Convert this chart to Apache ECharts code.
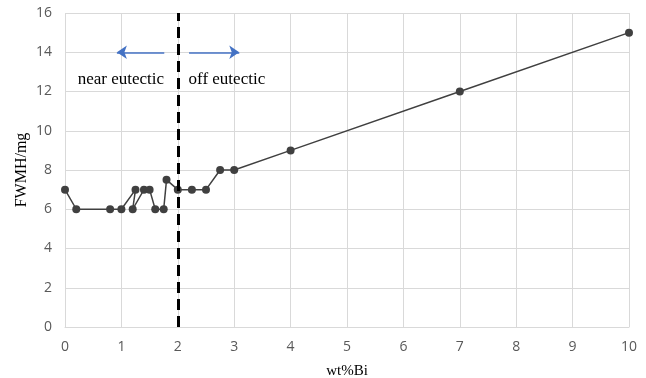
<!DOCTYPE html>
<html>
<head>
<meta charset="utf-8">
<script src="https://cdn.jsdelivr.net/npm/echarts@6/dist/echarts.min.js"></script>
<style>
  html, body { margin: 0; padding: 0; background: #fff; }
  #chart { width: 646px; height: 378px; }
</style>
</head>
<body>
<div id="chart"></div>
<script>
// Bi content (wt%) and the measured FWHM, in measurement order
const wtBi = [0, 0.2, 0.8, 1.0, 1.25, 1.2, 1.4, 1.5, 1.6, 1.75, 1.8, 2.0, 2.25, 2.5, 2.75, 3, 4, 7, 10];
const fwhm = [7, 6, 6, 6, 7, 6, 7, 7, 6, 6, 7.5, 7, 7, 7, 8, 8, 9, 12, 15];

// Boundary between the two composition regions
const boundaryBi = 2;

// Region labels with their anchor positions (data units)
const regionLabels = ['near eutectic', 'off eutectic'];
const regionLabelAt = [[0.99, 12.6], [2.87, 12.6]];

// Direction arrows (start -> end, data units)
const arrowStart = [[1.76, 14], [2.2, 14]];
const arrowEnd = [[0.92, 14], [3.09, 14]];

const xTicks = [0, 1, 2, 3, 4, 5, 6, 7, 8, 9, 10];
const yTicks = [0, 2, 4, 6, 8, 10, 12, 14, 16];

const points = wtBi.map((x, i) => [x, fwhm[i]]);

const serif = '"Liberation Serif", "Times New Roman", serif';
const sans = '"Open Sans", "Liberation Sans", sans-serif';
const gridColor = '#d9d9d9';
const tickColor = '#595959';

const arrowLines = arrowStart.map((s, i) => [
  {
    coord: s,
    symbol: 'none',
    lineStyle: { color: '#4472C4', width: 1.5, type: 'solid' }
  },
  { coord: arrowEnd[i], symbol: 'arrow', symbolSize: [10, 10] }
]);

const chart = echarts.init(document.getElementById('chart'), null, { renderer: 'canvas' });

chart.setOption({
  animation: false,
  backgroundColor: '#fff',
  grid: {
    left: 65, right: 17, top: 13, bottom: 51,
    containLabel: false,
    outerBoundsMode: 'none'
  },
  xAxis: {
    type: 'value',
    min: xTicks[0],
    max: xTicks[xTicks.length - 1],
    interval: 1,
    name: 'wt%Bi',
    nameLocation: 'middle',
    nameGap: 37,
    nameMoveOverlap: false,
    nameTextStyle: { fontFamily: serif, fontSize: 15, color: '#000' },
    axisLine: { lineStyle: { color: gridColor, width: 1 } },
    axisTick: { show: false },
    axisLabel: { margin: 13, fontFamily: sans, fontSize: 14, color: tickColor },
    splitLine: { show: true, lineStyle: { color: gridColor, width: 1 } }
  },
  yAxis: {
    type: 'value',
    min: yTicks[0],
    max: yTicks[yTicks.length - 1],
    interval: 2,
    name: 'FWMH/mg',
    nameLocation: 'middle',
    nameGap: 35,
    nameMoveOverlap: false,
    nameTextStyle: { fontFamily: serif, fontSize: 16, color: '#000' },
    axisLine: { show: false },
    axisTick: { show: false },
    axisLabel: { margin: 13, fontFamily: sans, fontSize: 14, color: tickColor },
    splitLine: { show: true, lineStyle: { color: gridColor, width: 1 } }
  },
  series: [{
    type: 'line',
    data: points,
    symbol: 'circle',
    symbolSize: 8,
    itemStyle: { color: '#404040' },
    lineStyle: { color: '#404040', width: 1.5 },
    z: 3,
    markLine: {
      silent: true,
      animation: false,
      symbol: ['none', 'none'],
      label: { show: false },
      data: [
        {
          xAxis: boundaryBi,
          lineStyle: { color: '#000', width: 3, type: [11, 6] }
        },
        ...arrowLines
      ]
    },
    markPoint: {
      silent: true,
      symbol: 'circle',
      symbolSize: 0,
      data: regionLabels.map((t, i) => ({
        coord: regionLabelAt[i],
        label: {
          show: true,
          formatter: t,
          position: 'inside',
          fontFamily: serif,
          fontSize: 17,
          color: '#000'
        }
      }))
    }
  }]
});
</script>
</body>
</html>
